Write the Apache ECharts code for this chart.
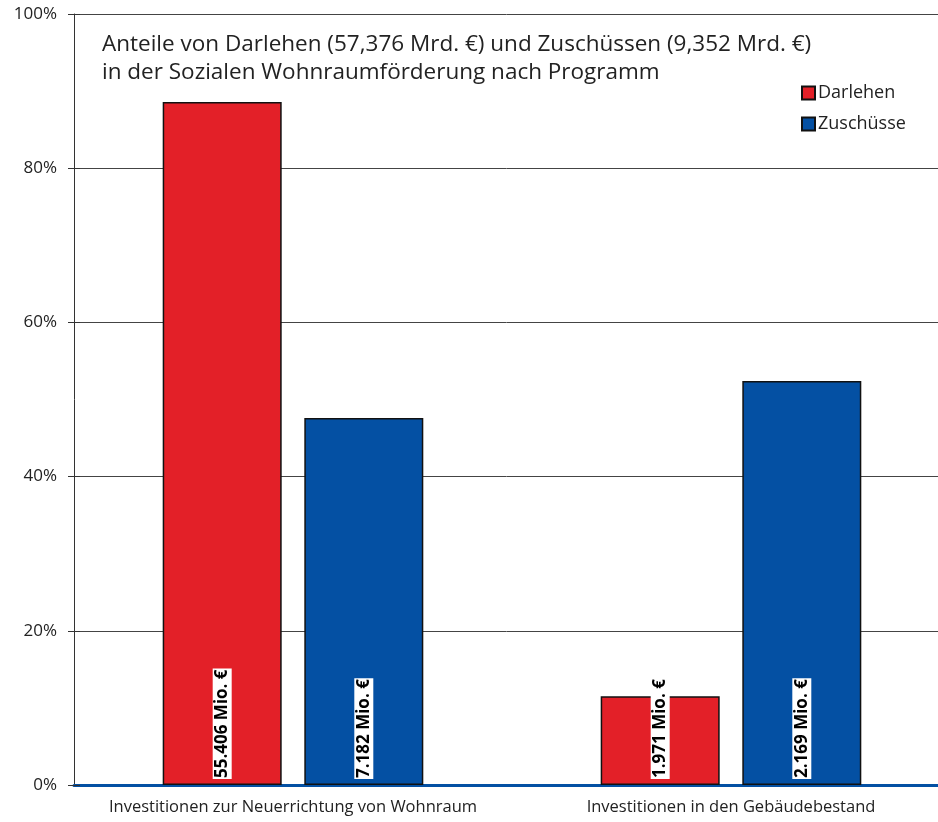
<!DOCTYPE html>
<html><head><meta charset="utf-8">
<script src="https://cdn.jsdelivr.net/npm/echarts@6/dist/echarts.min.js"></script>
<style>html,body{margin:0;padding:0;background:#fff}#c{width:938px;height:822px}</style>
</head><body><div id="c"></div>
<script>
const categories = ['Investitionen zur Neuerrichtung von Wohnraum', 'Investitionen in den Gebäudebestand'];
const seriesNames = ['Darlehen', 'Zuschüsse'];
const darlehen = [88.6, 11.5];
const zuschuesse = [47.6, 52.4];
const darlehenLabels = ['55.406 Mio. €', '1.971 Mio. €'];
const zuschuesseLabels = ['7.182 Mio. €', '2.169 Mio. €'];
const yTicks = [0, 20, 40, 60, 80, 100];
const titleLines = ['Anteile von Darlehen (57,376 Mrd. €) und Zuschüssen (9,352 Mrd. €)', 'in der Sozialen Wohnraumförderung nach Programm'];

const FONT = '"Open Sans", sans-serif';
const chart = echarts.init(document.getElementById('c'), null, {renderer: 'canvas'});

function labelCfg(texts) {
  return {
    show: true,
    position: 'insideBottom',
    distance: 6,
    rotate: 90,
    align: 'left',
    verticalAlign: 'middle',
    formatter: p => texts[p.dataIndex],
    color: '#000',
    fontWeight: 'bold',
    fontSize: 17,
    fontFamily: FONT,
    backgroundColor: '#fff',
    padding: [2, 1, 0, 1]
  };
}

const yMin = yTicks[0], yMax = yTicks[yTicks.length - 1];

chart.setOption({
  animation: false,
  title: {
    text: titleLines.join('\n'),
    left: 102, top: 31, padding: 0,
    textStyle: {fontSize: 22.5, fontWeight: 'normal', color: '#222', fontFamily: FONT, lineHeight: 28}
  },
  legend: {
    data: seriesNames,
    orient: 'vertical',
    left: 801, top: 84, padding: 0,
    itemWidth: 13, itemHeight: 13, itemGap: 13,
    icon: 'rect',
    textStyle: {fontSize: 18, color: '#222', fontFamily: FONT, padding: [0, 0, 0, -2]}
  },
  grid: {left: 74, top: 14, width: 876, height: 771, outerBoundsMode: 'none', containLabel: false},
  xAxis: {
    type: 'category',
    data: categories,
    axisTick: {show: false},
    axisLine: {lineStyle: {color: '#0450a3', width: 3}},
    axisLabel: {interval: 0, fontSize: 16.5, color: '#222', fontFamily: FONT, margin: 14}
  },
  yAxis: [
    {
      type: 'value',
      min: yMin, max: yMax, interval: 20,
      axisLine: {show: true, lineStyle: {color: '#333', width: 1}},
      axisTick: {show: true, length: 6, lineStyle: {color: '#333'}},
      splitLine: {lineStyle: {color: '#444', width: 1}},
      axisLabel: {formatter: '{value}%', fontSize: 17, color: '#222', fontFamily: FONT, margin: 17}
    },
    {
      type: 'value', position: 'left',
      min: yMin, max: yMax, interval: 20,
      axisLine: {show: false},
      axisTick: {show: true, inside: true, length: 6, lineStyle: {color: '#333'}},
      splitLine: {show: false},
      axisLabel: {show: false}
    }
  ],
  series: [
    {
      name: seriesNames[0], type: 'bar', data: darlehen,
      barWidth: 119, barGap: '19%',
      itemStyle: {color: '#e32028', borderColor: '#111', borderWidth: 1.5},
      label: labelCfg(darlehenLabels)
    },
    {
      name: seriesNames[1], type: 'bar', data: zuschuesse,
      barWidth: 119, barGap: '19%',
      itemStyle: {color: '#0450a3', borderColor: '#111', borderWidth: 1.5},
      label: labelCfg(zuschuesseLabels)
    }
  ]
});
</script></body></html>
